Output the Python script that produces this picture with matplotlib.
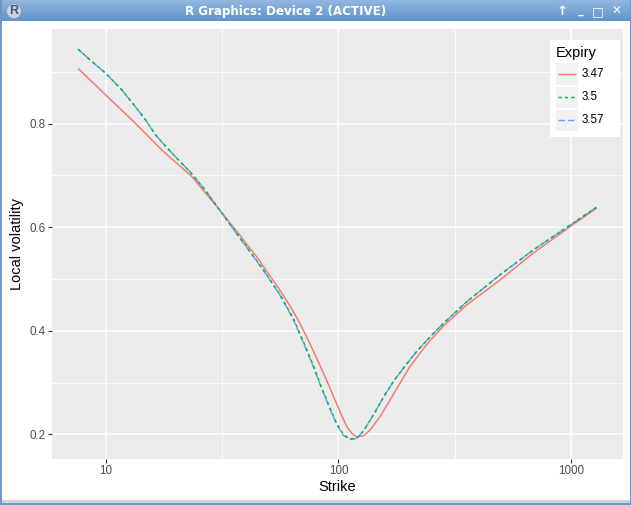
import numpy as np
import matplotlib
matplotlib.use("Agg")
import matplotlib.pyplot as plt
from matplotlib.patches import Rectangle

# ---------------- data ----------------
expiries = ["3.47", "3.5", "3.57"]

strike_347 = [7.58, 10.0, 13.37, 17.4, 23.4, 26.7, 31.55, 34.15, 37.2, 40.3, 45.4, 47.5,
              54.2, 61.9, 68.3, 75.4, 81.9, 89.0, 95.0, 101.5, 108.5, 114.0, 119.7,
              127.9, 136.6, 150.8, 166.5, 183.9, 203, 227.9, 247.5, 282.3, 356, 495,
              688, 990, 1290]
vol_347 = [0.907, 0.855, 0.801, 0.749, 0.698, 0.667, 0.628, 0.608, 0.588, 0.567, 0.538,
           0.524, 0.488, 0.448, 0.414, 0.375, 0.340, 0.304, 0.274, 0.244, 0.215, 0.202,
           0.195, 0.197, 0.208, 0.234, 0.266, 0.299, 0.331, 0.361, 0.381, 0.409, 0.450,
           0.498, 0.550, 0.601, 0.637]

strike_350 = [7.58, 8.71, 10.0, 11.72, 13.37, 14.76, 16.3, 18.0, 20.5, 23.0, 26.7, 31.55,
              34.15, 37.2, 40.3, 43.9, 47.5, 56.0, 63.9, 70.6, 77.9, 84.7, 91.9, 98.2,
              104.9, 112.1, 119.7, 127.9, 141.1, 155.8, 172.1, 196.5, 216.9, 247.5,
              282.3, 356, 495, 688, 990, 1290]
vol_350 = [0.944, 0.920, 0.897, 0.865, 0.833, 0.808, 0.779, 0.757, 0.730, 0.707, 0.672,
           0.627, 0.606, 0.583, 0.562, 0.539, 0.518, 0.470, 0.424, 0.379, 0.333, 0.290,
           0.251, 0.221, 0.200, 0.191, 0.192, 0.206, 0.237, 0.271, 0.302, 0.336, 0.360,
           0.388, 0.414, 0.456, 0.508, 0.556, 0.604, 0.639]

strike_357 = [7.58, 8.71, 10.0, 11.72, 13.37, 14.76, 16.3, 18.0, 20.5, 23.0, 26.7, 31.55,
              34.15, 37.2, 40.3, 43.9, 47.5, 56.0, 63.9, 70.6, 77.9, 84.7, 91.9, 98.2,
              104.9, 112.1, 119.7, 127.9, 141.1, 155.8, 172.1, 196.5, 216.9, 247.5,
              282.3, 356, 495, 688, 990, 1290]
vol_357 = [0.944, 0.920, 0.897, 0.865, 0.833, 0.808, 0.779, 0.757, 0.730, 0.707, 0.672,
           0.627, 0.605, 0.582, 0.561, 0.538, 0.517, 0.469, 0.422, 0.377, 0.331, 0.288,
           0.249, 0.219, 0.198, 0.190, 0.192, 0.206, 0.237, 0.271, 0.302, 0.336, 0.360,
           0.388, 0.414, 0.456, 0.508, 0.556, 0.604, 0.639]

x_major = [10, 100, 1000]
x_major_labels = ["10", "100", "1000"]
x_minor = [10 ** 0.5, 10 ** 1.5, 10 ** 2.5, 10 ** 3.5]
y_major = [0.2, 0.4, 0.6, 0.8]
y_major_labels = ["0.2", "0.4", "0.6", "0.8"]
y_minor = [0.3, 0.5, 0.7, 0.9]

colors = ["#F8766D", "#00BA38", "#619CFF"]
styles = ["-", (0, (2.2, 2.2)), (0, (4.4, 2.2))]

# ---------------- figure ----------------
W, H = 631, 505
fig = plt.figure(figsize=(W / 100, H / 100), dpi=100)
fig.patch.set_facecolor("white")
plt.rcParams["font.family"] = ["Liberation Sans", "DejaVu Sans"]


def fx(px):
    return px / W


def fy(py):
    return 1 - py / H


# window chrome: title bar gradient
tb = fig.add_axes([0, fy(21.5), 1, 21.5 / H])
tb.set_axis_off()
grad = np.linspace(0, 1, 50).reshape(-1, 1)
top = np.array([0.58, 0.72, 0.88])
bot = np.array([0.38, 0.58, 0.80])
img = top[None, None, :] * (1 - grad[:, :, None]) + bot[None, None, :] * grad[:, :, None]
tb.imshow(img, aspect="auto", extent=[0, 1, 0, 1])
tb.set_xlim(0, 1)
tb.set_ylim(0, 1)
fig.text(fx(286), fy(11), "R Graphics: Device 2 (ACTIVE)", color="white",
         fontsize=8.6, fontweight="bold", family="DejaVu Sans", ha="center", va="center")
fig.text(fx(14), fy(11), "R", color="#3a5a8a", fontsize=9, fontweight="bold",
         ha="center", va="center",
         bbox=dict(boxstyle="circle,pad=0.12", fc="#c9d3de", ec="#8a99aa", lw=0.6))
fig.text(fx(562), fy(11.5), "\u2191", color="white", fontsize=9.5, fontweight="bold",
         family="DejaVu Sans", ha="center", va="center")
fig.text(fx(581), fy(11.5), "_", color="white", fontsize=8, fontweight="bold",
         family="DejaVu Sans", ha="center", va="center")
fig.text(fx(597.5), fy(11.5), "\u25a1", color="white", fontsize=9, fontweight="bold",
         family="DejaVu Sans", ha="center", va="center")
fig.text(fx(616), fy(11.5), "\u2715", color="white", fontsize=8.5, fontweight="bold",
         family="DejaVu Sans", ha="center", va="center")

# borders
border = "#6f98c9"
fig.patches.append(Rectangle((0, 0), fx(1.5), 1, transform=fig.transFigure,
                             fc=border, ec="none"))
fig.patches.append(Rectangle((fx(629.5), 0), fx(1.5), 1, transform=fig.transFigure,
                             fc=border, ec="none"))
fig.patches.append(Rectangle((0, 0), 1, 2 / H, transform=fig.transFigure,
                             fc=border, ec="none"))
fig.patches.append(Rectangle((fx(1.5), 2 / H), fx(628), 3 / H, transform=fig.transFigure,
                             fc="#d4d4d4", ec="none"))

# ---------------- plot panel ----------------
L, R, T, B = 51.7, 622.7, 29.0, 458.7
ax = fig.add_axes([fx(L), fy(B), (R - L) / W, (B - T) / H])
ax.set_facecolor("#EBEBEB")
ax.set_xscale("log")
ax.set_xlim(10 ** 0.7665, 10 ** 3.2224)
ax.set_ylim(0.1529, 0.983)

for v in x_minor:
    ax.axvline(v, color="white", lw=0.55, zorder=0.5)
for v in y_minor:
    ax.axhline(v, color="white", lw=0.55, zorder=0.5)
for v in x_major:
    ax.axvline(v, color="white", lw=1.1, zorder=0.6)
for v in y_major:
    ax.axhline(v, color="white", lw=1.1, zorder=0.6)

series = [(strike_347, vol_347), (strike_350, vol_350), (strike_357, vol_357)]
for i in [0, 2, 1]:
    xs, ys = series[i]
    ax.plot(xs, ys, color=colors[i], lw=1.05, linestyle=styles[i], zorder=2,
            solid_capstyle="butt", dash_capstyle="butt", solid_joinstyle="round")

for s in ax.spines.values():
    s.set_visible(False)
ax.set_xticks(x_major)
ax.set_xticklabels(x_major_labels)
ax.xaxis.set_minor_locator(matplotlib.ticker.NullLocator())
ax.set_yticks(y_major)
ax.set_yticklabels(y_major_labels)
ax.tick_params(axis="both", length=2.7, width=0.8, color="#333333",
               labelcolor="#4D4D4D", labelsize=8.4, pad=1.8)
ax.set_xlabel("Strike", fontsize=10.5, color="black", labelpad=2.5)
ax.set_ylabel("Local volatility", fontsize=10.5, color="black", labelpad=4)

# ---------------- legend ----------------
lg = fig.add_axes([0, 0, 1, 1], facecolor="none")
lg.set_axis_off()
lg.set_xlim(0, W)
lg.set_ylim(H, 0)
lg.add_patch(Rectangle((550, 40), 70, 97, fc="white", ec="none"))
lg.text(556, 53, "Expiry", fontsize=10.5, color="black", va="center", ha="left")
key_tops = [63, 86.5, 109.5]
for i, lab in enumerate(expiries):
    ky = key_tops[i]
    lg.add_patch(Rectangle((556, ky), 22, 21.5, fc="#F2F2F2", ec="none"))
    lg.plot([558, 576], [ky + 10.75, ky + 10.75], color=colors[i], lw=1.05,
            linestyle=styles[i], solid_capstyle="butt", dash_capstyle="butt")
    lg.text(582, ky + 10.75, lab, fontsize=8.4, color="black", va="center", ha="left")

fig.savefig("out.png", dpi=100)
